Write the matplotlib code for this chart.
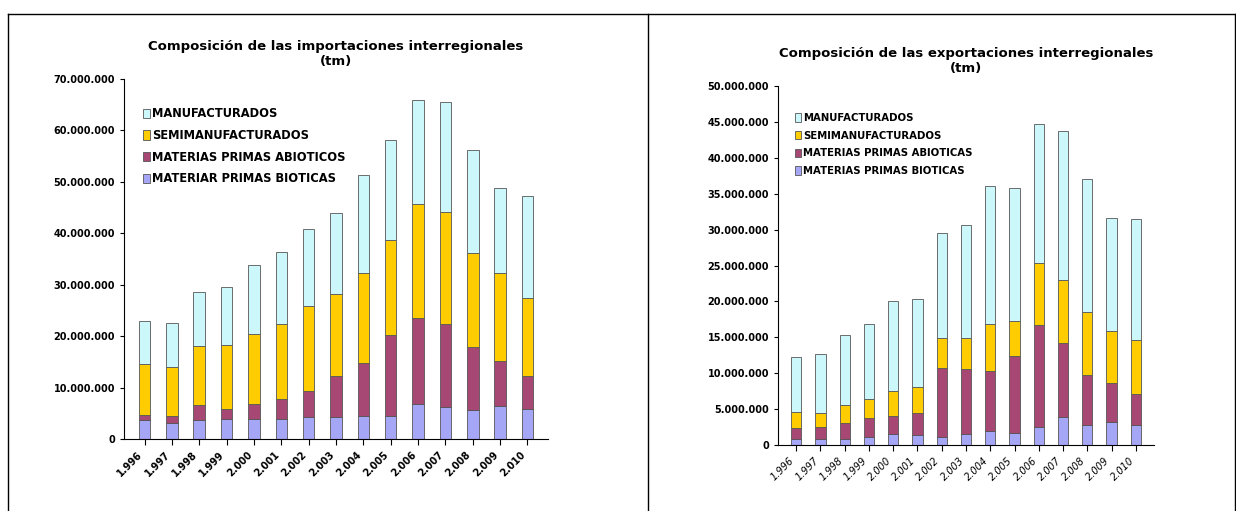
import matplotlib.pyplot as plt
from matplotlib.lines import Line2D
from matplotlib.ticker import FuncFormatter

YEARS = ["1.996", "1.997", "1.998", "1.999", "2.000", "2.001", "2.002", "2.003",
         "2.004", "2.005", "2.006", "2.007", "2.008", "2.009", "2.010"]

# importaciones, millones de tm
imp_bio = [3.6, 3.1, 3.6, 3.9, 3.9, 3.9, 4.2, 4.2, 4.5, 4.4, 6.8, 6.3, 5.6, 6.5, 5.8]
imp_abio = [1.1, 1.3, 3.0, 2.0, 3.0, 3.8, 5.2, 8.1, 10.3, 15.8, 16.8, 16.0, 12.3, 8.7, 6.5]
imp_semi = [9.9, 9.6, 11.5, 12.4, 13.5, 14.6, 16.4, 15.9, 17.5, 18.5, 22.0, 21.9, 18.3, 17.1, 15.2]
imp_manu = [8.3, 8.6, 10.4, 11.2, 13.4, 14.1, 15.1, 15.8, 19.0, 19.5, 20.4, 21.4, 19.9, 16.5, 19.7]

# exportaciones, millones de tm
exp_bio = [0.83, 0.83, 0.83, 1.17, 1.51, 1.37, 1.17, 1.51, 1.95, 1.66, 2.44, 3.96, 2.74, 3.22, 2.74]
exp_abio = [1.51, 1.71, 2.30, 2.54, 2.59, 3.03, 9.57, 9.04, 8.30, 10.75, 14.26, 10.31, 7.03, 5.37, 4.30]
exp_semi = [2.25, 1.86, 2.44, 2.74, 3.42, 3.61, 4.20, 4.30, 6.64, 4.89, 8.70, 8.70, 8.79, 7.23, 7.52]
exp_manu = [7.62, 8.21, 9.77, 10.45, 12.60, 12.31, 14.56, 15.73, 19.15, 18.56, 19.34, 20.81, 18.47, 15.73, 16.90]

COLORS = ["#a6a6f6", "#a64873", "#ffcc00", "#ccf8fc"]

IMP_LABELS = ["MATERIAR PRIMAS BIOTICAS", "MATERIAS PRIMAS ABIOTICOS",
              "SEMIMANUFACTURADOS", "MANUFACTURADOS"]
EXP_LABELS = ["MATERIAS PRIMAS BIOTICAS", "MATERIAS PRIMAS ABIOTICAS",
              "SEMIMANUFACTURADOS", "MANUFACTURADOS"]


def fmt(v, _):
    return f"{int(round(v * 1e6)):,}".replace(",", ".")


def draw(ax, series, labels, title, ymax, step, bold_x, legfs):
    x = range(len(YEARS))
    bottom = [0.0] * len(YEARS)
    handles = []
    for vals, col, lab in zip(series, COLORS, labels):
        b = ax.bar(x, vals, 0.42, bottom=bottom, color=col, edgecolor="#555555",
                   linewidth=0.6, label=lab)
        handles.append(b)
        bottom = [a + v for a, v in zip(bottom, vals)]
    ax.set_ylim(0, ymax)
    ax.set_xlim(-0.75, len(YEARS) - 0.25)
    ax.set_yticks([i * step for i in range(int(ymax / step) + 1)])
    ax.yaxis.set_major_formatter(FuncFormatter(fmt))
    ax.set_xticks(list(x))
    ax.set_xticklabels(YEARS, rotation=45, ha="right", fontsize=7,
                       fontweight="bold" if bold_x else "normal",
                       style="normal" if bold_x else "italic")
    for t in ax.get_yticklabels():
        t.set_fontsize(7)
        t.set_fontweight("bold")
    ax.set_title(title, fontsize=9.5, fontweight="bold", pad=10)
    for s in ("top", "right"):
        ax.spines[s].set_visible(False)
    ax.tick_params(axis="x", length=4, direction="out")
    ax.tick_params(axis="y", length=3)
    leg = ax.legend(handles[::-1], labels[::-1], loc="upper left",
                    bbox_to_anchor=(0.02, 0.95), frameon=False, fontsize=legfs,
                    handlelength=0.6, handleheight=0.9, handletextpad=0.2,
                    labelspacing=0.75)
    for t in leg.get_texts():
        t.set_fontweight("bold")


fig = plt.figure(figsize=(12.36, 5.11), dpi=100)
ax1 = fig.add_axes([124 / 1236, 1 - 439 / 511, 424 / 1236, 360 / 511])
ax2 = fig.add_axes([778 / 1236, 1 - 445 / 511, 376 / 1236, 359 / 511])

draw(ax1, [imp_bio, imp_abio, imp_semi, imp_manu], IMP_LABELS,
     "Composición de las importaciones interregionales\n(tm)", 70, 10, True, 8.3)
draw(ax2, [exp_bio, exp_abio, exp_semi, exp_manu], EXP_LABELS,
     "Composición de las exportaciones interregionales\n(tm)", 50, 5, False, 7.3)

# panel frames
for xs, ys in [([8 / 1236, 1236 / 1236], [1 - 14 / 511] * 2),
               ([8 / 1236] * 2, [0, 1 - 14 / 511]),
               ([648 / 1236] * 2, [0, 1 - 14 / 511]),
               ([1235 / 1236] * 2, [0, 1 - 14 / 511])]:
    fig.add_artist(Line2D(xs, ys, color="black", linewidth=1))

fig.savefig("out.png", dpi=100)
